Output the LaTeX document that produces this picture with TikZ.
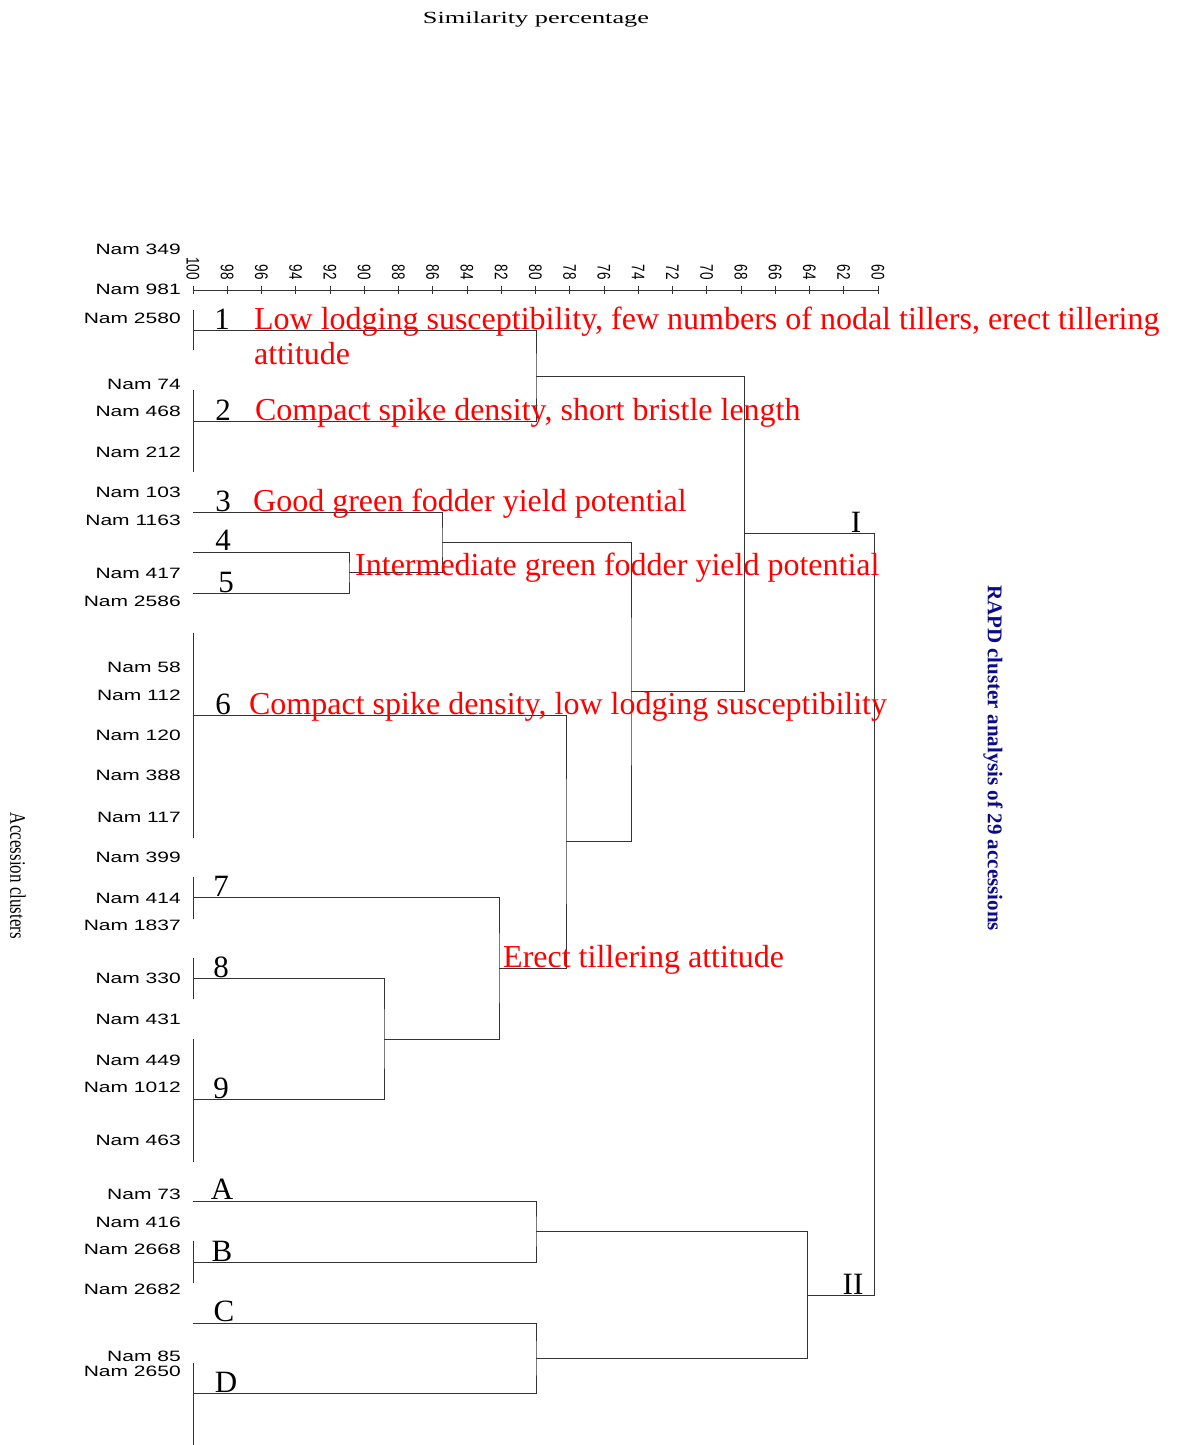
\documentclass[tikz,border=0pt]{standalone}
\usepackage{fontspec}
\setmainfont{Liberation Serif}
\newfontfamily\accfont{Liberation Sans}
\usepackage{xcolor}
\usepackage{tikz}
\usetikzlibrary{positioning}
\definecolor{traitred}{RGB}{255,0,0}
\definecolor{titlenavy}{RGB}{10,10,140}

\begin{document}
\begin{tikzpicture}[x=1pt,y=-1pt]
\tikzstyle{branch}=[draw=black!80,line width=0.9pt]
\tikzstyle{acc}=[anchor=base east,inner sep=0pt,xscale=1.4,font=\accfont\fontsize{15}{18}\selectfont]
\tikzstyle{clno}=[anchor=base,inner sep=0pt,font=\fontsize{31}{34}\selectfont]
\tikzstyle{trait}=[anchor=base west,inner sep=0pt,text=traitred,align=left,font=\fontsize{32}{35}\selectfont]
\tikzstyle{tickno}=[anchor=east,inner sep=0pt,rotate=-90,yscale=1.35,font=\accfont\fontsize{13.5}{15}\selectfont]
\useasboundingbox (0,0) rectangle (1179,1445);
% titles
\node (simtitle) [anchor=base,xscale=1.55,font=\fontsize{17}{20}\selectfont] at (536,24) {Similarity percentage};
\node (acclust) [rotate=-90,yscale=1.3,font=\fontsize{17}{20}\selectfont] at (18,876) {Accession clusters};
\node (rapd) [rotate=-90,text=titlenavy,font=\bfseries\fontsize{21}{24}\selectfont] at (993,758) {RAPD cluster analysis of 29 accessions};
% similarity axis
\draw[branch] (193,290) -- (878,290);
\foreach \v in {100,98,...,60}{
  \draw[branch] ({193+(100-\v)*17.125},286) -- ++(0,8);
  \node (tick\v) [tickno] at ({193+(100-\v)*17.125},280) {\v};
}
% accessions
\node (acc349) [acc] at (181,254) {Nam 349};
\node (acc981) [acc] at (181,294) {Nam 981};
\node (acc2580) [acc] at (181,323) {Nam 2580};
\node (acc74) [acc] at (181,389) {Nam 74};
\node (acc468) [acc] at (181,416) {Nam 468};
\node (acc212) [acc] at (181,457) {Nam 212};
\node (acc103) [acc] at (181,497) {Nam 103};
\node (acc1163) [acc] at (181,525) {Nam 1163};
\node (acc417) [acc] at (181,578) {Nam 417};
\node (acc2586) [acc] at (181,606) {Nam 2586};
\node (acc58) [acc] at (181,672) {Nam 58};
\node (acc112) [acc] at (181,700) {Nam 112};
\node (acc120) [acc] at (181,740) {Nam 120};
\node (acc388) [acc] at (181,780) {Nam 388};
\node (acc117) [acc] at (181,822) {Nam 117};
\node (acc399) [acc] at (181,862) {Nam 399};
\node (acc414) [acc] at (181,903) {Nam 414};
\node (acc1837) [acc] at (181,930) {Nam 1837};
\node (acc330) [acc] at (181,983) {Nam 330};
\node (acc431) [acc] at (181,1024) {Nam 431};
\node (acc449) [acc] at (181,1065) {Nam 449};
\node (acc1012) [acc] at (181,1092) {Nam 1012};
\node (acc463) [acc] at (181,1145) {Nam 463};
\node (acc73) [acc] at (181,1199) {Nam 73};
\node (acc416) [acc] at (181,1227) {Nam 416};
\node (acc2668) [acc] at (181,1254) {Nam 2668};
\node (acc2682) [acc] at (181,1294) {Nam 2682};
\node (acc85) [acc] at (181,1361) {Nam 85};
\node (acc2650) [acc] at (181,1376) {Nam 2650};
% cluster stems at 100%
\draw[branch] (193,310) -- (193,350);
\draw[branch] (193,390) -- (193,472);
\draw[branch] (193,633) -- (193,838);
\draw[branch] (193,877) -- (193,919);
\draw[branch] (193,958) -- (193,999);
\draw[branch] (193,1039) -- (193,1162);
\draw[branch] (193,1241) -- (193,1283);
\draw[branch] (193,1363) -- (193,1445);
% leaves and joins
\coordinate (c1) at (193,330);
\coordinate (c2) at (193,421);
\coordinate (c3) at (193,512);
\coordinate (c4) at (193,552);
\coordinate (c5) at (193,593);
\coordinate (c6) at (193,715);
\coordinate (c7) at (193,897);
\coordinate (c8) at (193,978);
\coordinate (c9) at (193,1099);
\coordinate (cA) at (193,1201);
\coordinate (cB) at (193,1262);
\coordinate (cC) at (193,1323);
\coordinate (cD) at (193,1393);
\coordinate (j12) at (536,376);
\coordinate (j45) at (349,572);
\coordinate (j345) at (442,542);
\coordinate (j89) at (384,1039);
\coordinate (j789) at (499,968);
\coordinate (j69) at (566,841);
\coordinate (j39) at (631,691);
\coordinate (jI) at (744,533);
\coordinate (jAB) at (536,1231);
\coordinate (jCD) at (536,1358);
\coordinate (jII) at (807,1295);
\coordinate (root) at (874,914);
\draw[branch] (c1) -| (j12) |- (c2);
\draw[branch] (c4) -| (j45) |- (c5);
\draw[branch] (c3) -| (j345) |- (j45);
\draw[branch] (c8) -| (j89) |- (c9);
\draw[branch] (c7) -| (j789) |- (j89);
\draw[branch] (c6) -| (j69) |- (j789);
\draw[branch] (j345) -| (j39) |- (j69);
\draw[branch] (j12) -| (jI) |- (j39);
\draw[branch] (cA) -| (jAB) |- (cB);
\draw[branch] (cC) -| (jCD) |- (cD);
\draw[branch] (jAB) -| (jII) |- (jCD);
\draw[branch] (jI) -| (root) |- (jII);
% cluster numbers
\node (n1) [clno] at (222,329) {1};
\node (n2) [clno] at (223,420) {2};
\node (n3) [clno] at (223,511) {3};
\node (n4) [clno] at (223,550) {4};
\node (n5) [clno] at (226,592) {5};
\node (n6) [clno] at (223,714) {6};
\node (n7) [clno] at (221,896) {7};
\node (n8) [clno] at (221,977) {8};
\node (n9) [clno] at (221,1098) {9};
\node (nA) [clno] at (222,1199) {A};
\node (nB) [clno] at (222,1261) {B};
\node (nC) [clno] at (224,1321) {C};
\node (nD) [clno] at (226,1392) {D};
\node (gI) [clno] at (856,532) {I};
\node (gII) [clno] at (853,1294) {II};
% traits (t1 has two lines: its base is the second line)
\node (t1) [trait, base right=24pt of n1, yshift=-35pt] {Low lodging susceptibility, few numbers of nodal tillers, erect tillering\\attitude};
\node (t2) [trait, base right=24pt of n2] {Compact spike density, short bristle length};
\node (t3) [trait, base right=22pt of n3] {Good green fodder yield potential};
\node (t45) [trait] at (355,575) {Intermediate green fodder yield potential};
\node (t6) [trait, base right=18pt of n6] {Compact spike density, low lodging susceptibility};
\node (t79) [trait] at (503,967) {Erect tillering attitude};
\end{tikzpicture}
\end{document}
